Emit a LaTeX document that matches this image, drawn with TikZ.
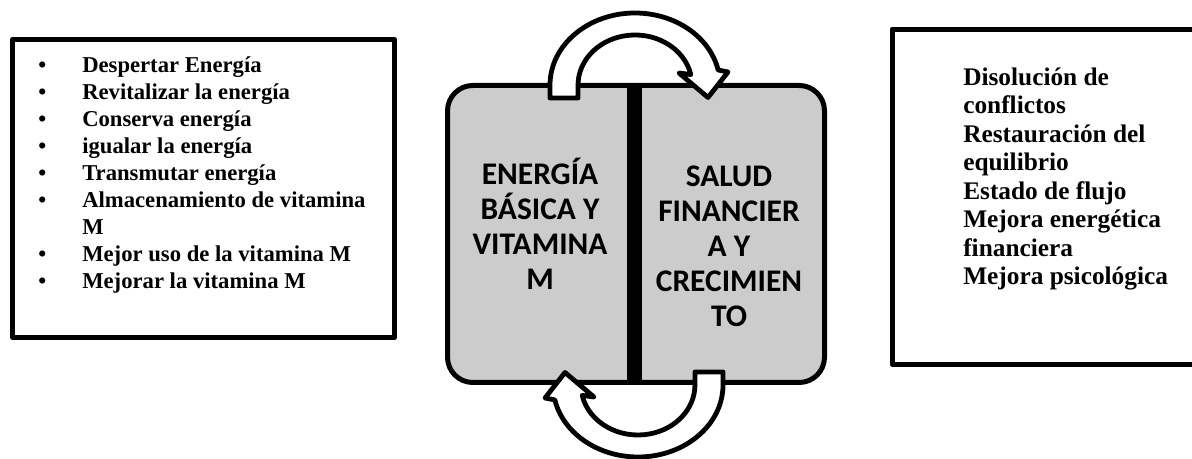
\documentclass[tikz,border=0pt]{standalone}
\usepackage{fontspec}
\setmainfont{Liberation Serif}
\newfontfamily\calibri{Carlito}
\usetikzlibrary{calc}

\begin{document}
\begin{tikzpicture}[x=0.75pt, y=0.75pt, line join=round]
\tikzset{frame/.style={draw, black, line width=3.75pt, rectangle, inner sep=0},
  cyclebox/.style={draw, black, line width=3.75pt, fill=black!20, rectangle, rounded corners=19pt, inner sep=0},
  bigcaps/.style={font=\calibri\bfseries\fontsize{23.6}{26.4}\selectfont, align=center, inner sep=0},
  bentarrow/.style={draw=black, fill=white, line width=3.6pt}}
\def\turnarrow#1{ % #1 rotation about the hub
\draw[bentarrow, shift={(hub)}, rotate=#1] (-86.5,137) -- (-86.5,150) arc[start angle=180, end angle=12, x radius=85, y radius=72] -- (91.5,163) -- (71.5,137.5) -- (42.5,162) -- (54.3,160.4) arc[start angle=12, end angle=180, x radius=57, y radius=50] -- (-58.5,137) -- cycle;}
\useasboundingbox (0,0) rectangle (1192,459);
\clip (0,0) rectangle (1192,459);

%% outer frames
\node[frame, minimum width=286.5pt, minimum height=223.5pt] (leftframe) at (203.5,270.5) {};
\node[frame, minimum width=238.1pt, minimum height=251.6pt] (rightframe) at (1051,262.25) {};

%% central cycle
\coordinate (hub) at (636.5,224);
\node[cyclebox, minimum width=282.75pt, minimum height=222.75pt] (cycle) at (636,225) {};
\draw[line width=11.25pt] ([xshift=-1.1pt]cycle.north) -- ([xshift=-1.1pt]cycle.south);
% base of a multi-line node = its last line
\node[bigcaps, anchor=base] (energia) at (540,169) {ENERGÍA\\BÁSICA Y\\VITAMINA\\M};
\node[bigcaps, anchor=base] (salud) at (729,132) {SALUD\\FINANCIER\\A Y\\CRECIMIEN\\TO};
% arrows
\turnarrow{0}
\turnarrow{180}

%% lists
\node[anchor=base west, inner sep=0, font=\bfseries\fontsize{17}{20.2}\selectfont] (acciones) at (38,386) {\begin{tabular}[t]{@{}p{33pt}@{}l@{}}
\textbullet & Despertar Energía\\
\textbullet & Revitalizar la energía\\
\textbullet & Conserva energía\\
\textbullet & igualar la energía\\
\textbullet & Transmutar energía\\
\textbullet & Almacenamiento de vitamina\\
 & M\\
\textbullet & Mejor uso de la vitamina M\\
\textbullet & Mejorar la vitamina M
\end{tabular}};
\node[anchor=base west, inner sep=0, align=left, font=\bfseries\fontsize{19}{21.4}\selectfont] (resultados) at (963,174) {Disolución de\\conflictos\\Restauración del\\equilibrio\\Estado de flujo\\Mejora energética\\financiera\\Mejora psicológica};
\end{tikzpicture}
\end{document}
